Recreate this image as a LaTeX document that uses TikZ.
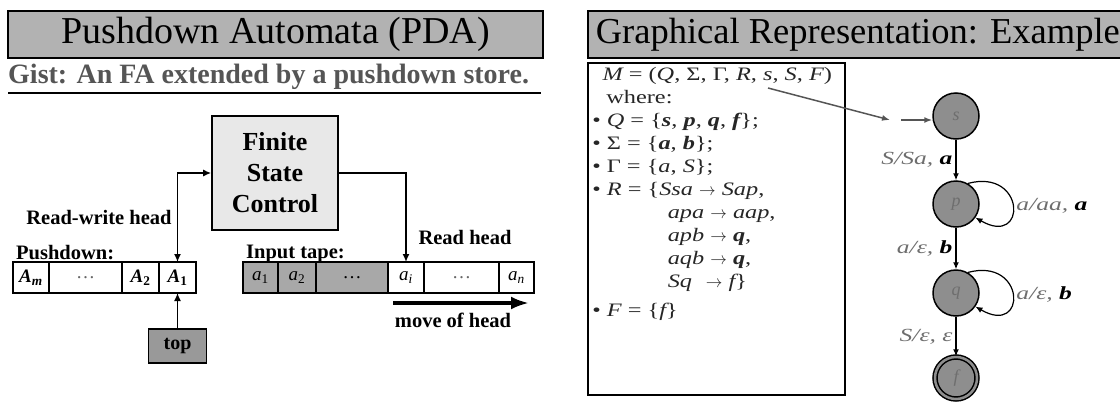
\documentclass[tikz,border=0pt]{standalone}
\usepackage{fontspec}
\setmainfont{Liberation Serif}
\usepackage{tikz}
\usetikzlibrary{arrows.meta,positioning}
\definecolor{ttlgray}{HTML}{B2B2B2}
\definecolor{fscfill}{HTML}{E8E8E8}
\definecolor{tapegray}{HTML}{A8A8A8}
\definecolor{topgray}{HTML}{999999}
\definecolor{stgray}{HTML}{8E8E8E}
\definecolor{txtgray}{HTML}{555555}
\definecolor{lblgray}{HTML}{6E6E6E}
\newcommand{\fs}[2]{\fontsize{#1}{#2}\selectfont}
\newcommand{\bsym}[1]{{\bfseries\itshape #1}}
\newcommand{\isym}[1]{{\itshape #1}}
\newcommand{\rarr}{\scalebox{0.75}[1]{$\rightarrow$}}
\newcommand{\wide}[1]{\scalebox{1.38}[1]{#1}}

\begin{document}
\begin{tikzpicture}[x=1pt, y=1pt,
  ttl/.style  ={draw=black, line width=1.6pt, fill=ttlgray, inner sep=0pt},
  lbl/.style  ={font=\fs{20.5}{24}\bfseries, inner sep=0pt},
  cell/.style ={draw=black, line width=1.4pt, minimum height=31, inner sep=0pt, outer sep=0pt,
                font=\fs{19}{21}},
  tcell/.style={cell, fill=tapegray},
  ar/.style   ={-{Latex[length=8pt,width=7pt]}, line width=1.5pt},
  dar/.style  ={{Latex[length=8pt,width=7pt]}-{Latex[length=8pt,width=7pt]}, line width=1.5pt},
  st/.style   ={circle, draw=black, line width=1.5pt, fill=stgray, minimum size=46, inner sep=0pt,
                text=lblgray, font=\fs{18}{20}\itshape},
  sar/.style  ={-{Latex[length=7pt,width=6pt]}, line width=1.2pt},
  gar/.style  ={-{Latex[length=8pt,width=6pt]}, line width=1.5pt, txtgray},
  elb/.style  ={font=\fs{18.5}{21}\itshape, text=lblgray, inner sep=3pt}
]
\useasboundingbox (0,0) rectangle (1120,-402);
% ---------- left slide: pushdown automaton ----------
\node[ttl, minimum width=535, minimum height=47, font=\fs{38}{40}] (ttlL) at (275.5,-34.5)
  {Pushdown Automata (PDA)};
\node[anchor=base west, inner sep=0pt, font=\fs{28}{30}\bfseries, text=txtgray] (gist) at (8,-83)
  {Gist: An FA extended by a pushdown store.};
\draw[line width=1.8pt] (8,-93) -- (541,-93);

\node[draw=black, line width=1.6pt, fill=fscfill, minimum width=126, minimum height=114,
      align=center, font=\fs{26}{31}\bfseries] (fsc) at (275,-173) {Finite\\State\\Control};

% pushdown store
\node[lbl, anchor=west] (pdl) at (16,-253) {Pushdown:};
\node[cell, minimum width=36] (Am) at (31,-277.5) {\bsym{A}\textsubscript{\bsym{m}}};
\node[cell, minimum width=73, right=0pt of Am, text=black!60] (Adots) {\dots};
\node[cell, minimum width=37, right=0pt of Adots] (A2) {\bsym{A}\textsubscript{\bfseries 2}};
\node[cell, minimum width=37, right=0pt of A2] (A1) {\bsym{A}\textsubscript{\bfseries 1}};
\node[cell, fill=topgray, minimum width=58, minimum height=34, font=\fs{20}{22}\bfseries]
  (top) at (177.5,-346) {top};
\node[lbl] (rwh) at (99,-217) {Read-write head};

% input tape
\node[lbl, anchor=west] (itl) at (246,-254) {Input tape:};
\node[tcell, minimum width=35] (a1) at (260.5,-277.5) {\isym{a}\textsubscript{1}};
\node[tcell, minimum width=38, right=0pt of a1] (a2) {\isym{a}\textsubscript{2}};
\node[tcell, minimum width=72, right=0pt of a2] (adots) {\dots};
\node[cell, minimum width=36, right=0pt of adots] (ai) {\isym{a}\textsubscript{\itshape i}};
\node[cell, minimum width=75, right=0pt of ai, text=black!60] (adots2) {\dots};
\node[cell, minimum width=35, right=0pt of adots2] (an) {\isym{a}\textsubscript{\itshape n}};
\node[lbl] (rh) at (465,-237) {Read head};

\draw[dar] (A1.north) |- (fsc.west);
\draw[ar] (top.north) -- (A1.south);
\draw[ar] (fsc.east) -| (ai.north);

\coordinate (mv1) at (393,-303);
\coordinate (mv2) at (529,-303);
\draw[-{Latex[length=18pt,width=13pt]}, line width=3.5pt] (mv1) -- (mv2);
\node[lbl] (mvl) at (453,-320) {move of head};

% ---------- right slide: example ----------
\node[ttl, minimum width=540, minimum height=47, anchor=west, font=\fs{36.5}{40}] (ttlR)
  at (587,-34.5) {Graphical Representation: Example};
\node[draw=black, line width=1.5pt, minimum width=257, minimum height=332, anchor=north west]
  (defbox) at (587,-62) {};
\begin{scope}[shift={(592,-67)}, xscale=1.28]
\node[transform shape, anchor=north west, align=left, inner sep=0pt, font=\fs{19}{23},
      text=black!85] (deftxt) at (0,0)
  {\hspace*{8pt}\isym{M} = (\isym{Q}, Σ, Γ, \isym{R}, \isym{s}, \isym{S}, \isym{F})\\
   \hspace*{11pt}where:\\
   • \isym{Q} = \{\bsym{s}, \bsym{p}, \bsym{q}, \bsym{f}\};\\
   • Σ = \{\bsym{a}, \bsym{b}\};\\
   • Γ = \{\isym{a}, \isym{S}\};\\
   • \isym{R} = \{\isym{Ssa} \rarr{} \isym{Sap},\\
   \hspace*{59pt}\isym{apa} \rarr{} \isym{aap},\\
   \hspace*{59pt}\isym{apb} \rarr{} \bsym{q},\\
   \hspace*{59pt}\isym{aqb} \rarr{} \bsym{q},\\
   \hspace*{59pt}\isym{Sq}\hspace{6pt} \rarr{} \isym{f}\}\\[6pt]
   • \isym{F} = \{\isym{f}\}};
\end{scope}

% state diagram
\node[st] (s) at (956,-116) {s};
\node[st] (p) at (956,-204) {p};
\node[st] (q) at (956,-293) {q};
\node[st, double=stgray, double distance=2.5pt, minimum size=42] (f) at (956,-378) {f};

\coordinate (sref) at (768,-88);
\coordinate (iend) at (890,-120);
\coordinate (ibeg) at (901,-120);
\draw[gar] (sref) -- (iend);
\draw[gar] (ibeg) -- (s.west |- ibeg);

\draw[sar] (s) -- node[elb, left] {\wide{S/Sa, \bsym{\color{black}a}}} (p);
\draw[sar] (p) -- node[elb, left] {\wide{a/ε, \bsym{\color{black}b}}} (q);
\draw[sar] (q) -- node[elb, left] {\wide{S/ε, ε}} (f);
\draw[sar] (p.60) .. controls +(15:60) and +(-30:60) ..
  node[elb, right, pos=0.5] {\wide{a/aa, \bsym{\color{black}a}}} (p.-35);
\draw[sar] (q.60) .. controls +(15:60) and +(-30:60) ..
  node[elb, right, pos=0.5] {\wide{a/ε, \bsym{\color{black}b}}} (q.-35);
\end{tikzpicture}
\end{document}
